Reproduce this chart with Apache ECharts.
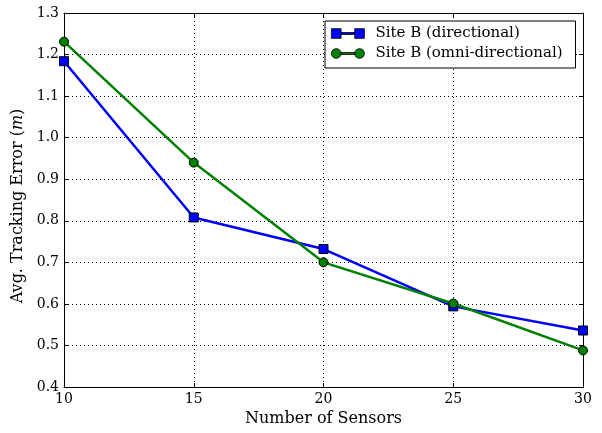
<!DOCTYPE html>
<html>
<head>
<meta charset="utf-8">
<script src="https://cdn.jsdelivr.net/npm/echarts@6/dist/echarts.min.js"></script>
<style>html,body{margin:0;padding:0;background:#fff}#c{width:602px;height:433px}</style>
</head>
<body>
<div id="c"></div>
<script>
const sensors = [10, 15, 20, 25, 30];
const directional = [1.184, 0.808, 0.732, 0.594, 0.536];
const omni = [1.231, 0.940, 0.700, 0.601, 0.488];
const seriesNames = ['Site B (directional)', 'Site B (omni-directional)'];
const xTitle = 'Number of Sensors';

const FONT = 'DejaVu Serif';
const chart = echarts.init(document.getElementById('c'), null, {renderer: 'canvas'});
const sqIcon = 'path://M0,0H10V10H0Z M10,4H24V6H10Z M24,0H34V10H24Z';
const ciIcon = 'path://M0,5A5,5 0 1,1 10,5A5,5 0 1,1 0,5Z M10,4H24V6H10Z M24,5A5,5 0 1,1 34,5A5,5 0 1,1 24,5Z';
const grid = {left: 64, right: 19, top: 13, bottom: 46};
const gridLine = {show: true, lineStyle: {color: '#000', type: [1, 3], width: 1}};
chart.setOption({
  animation: false,
  backgroundColor: '#fff',
  grid: grid,
  legend: {
    orient: 'vertical', left: 325, top: 21,
    backgroundColor: '#fff', borderColor: '#000', borderWidth: 1, borderRadius: 0,
    padding: [5, 13, 7, 6], itemGap: 5, itemWidth: 33, itemHeight: 10,
    textStyle: {fontFamily: FONT, fontSize: 15, color: '#000', padding: [0, 0, 0, 6]},
    data: [
      {name: seriesNames[0], icon: sqIcon, itemStyle: {borderColor: '#000', borderWidth: 0.8}},
      {name: seriesNames[1], icon: ciIcon, itemStyle: {borderColor: '#000', borderWidth: 0.8}}
    ]
  },
  xAxis: [{
    type: 'value', min: 10, max: 30, interval: 5,
    name: xTitle, nameLocation: 'middle', nameGap: 20,
    nameTextStyle: {fontFamily: FONT, fontSize: 16, color: '#000'},
    axisLine: {show: true, onZero: false, lineStyle: {color: '#000', width: 1}},
    axisTick: {show: true, inside: true, length: 4, lineStyle: {color: '#000'}},
    axisLabel: {fontFamily: FONT, fontSize: 14, color: '#000', margin: 5},
    splitLine: gridLine
  }, {
    type: 'value', min: 10, max: 30, interval: 5, position: 'top',
    axisLine: {show: true, onZero: false, lineStyle: {color: '#000', width: 1}},
    axisTick: {show: true, inside: true, length: 4, lineStyle: {color: '#000'}},
    axisLabel: {show: false}, splitLine: {show: false}
  }],
  yAxis: [{
    type: 'value', min: 0.4, max: 1.3, interval: 0.1,
    name: '{n|Avg. Tracking Error (}{i|m}{n|)}', nameLocation: 'middle', nameGap: 30,
    nameTextStyle: {fontFamily: FONT, fontSize: 16, color: '#000', padding: [0, 12, 0, 0],
      rich: {n: {fontFamily: FONT, fontSize: 16}, i: {fontFamily: FONT, fontSize: 16, fontStyle: 'italic'}}},
    axisLine: {show: true, onZero: false, lineStyle: {color: '#000', width: 1}},
    axisTick: {show: true, inside: true, length: 4, lineStyle: {color: '#000'}},
    axisLabel: {fontFamily: FONT, fontSize: 14, color: '#000', margin: 5, formatter: v => v.toFixed(1)},
    splitLine: gridLine
  }, {
    type: 'value', min: 0.4, max: 1.3, interval: 0.1, position: 'right',
    axisLine: {show: true, onZero: false, lineStyle: {color: '#000', width: 1}},
    axisTick: {show: true, inside: true, length: 4, lineStyle: {color: '#000'}},
    axisLabel: {show: false}, splitLine: {show: false}
  }],
  series: [{
    name: seriesNames[0], type: 'line',
    data: sensors.map((x, i) => [x, directional[i]]),
    symbol: 'rect', symbolSize: 9,
    lineStyle: {color: '#0000ff', width: 2.5},
    itemStyle: {color: '#0000ff', borderColor: '#000', borderWidth: 1},
    z: 3
  }, {
    name: seriesNames[1], type: 'line',
    data: sensors.map((x, i) => [x, omni[i]]),
    symbol: 'circle', symbolSize: 9,
    lineStyle: {color: '#008000', width: 2.5},
    itemStyle: {color: '#008000', borderColor: '#000', borderWidth: 1},
    z: 4
  }]
});
</script>
</body>
</html>
